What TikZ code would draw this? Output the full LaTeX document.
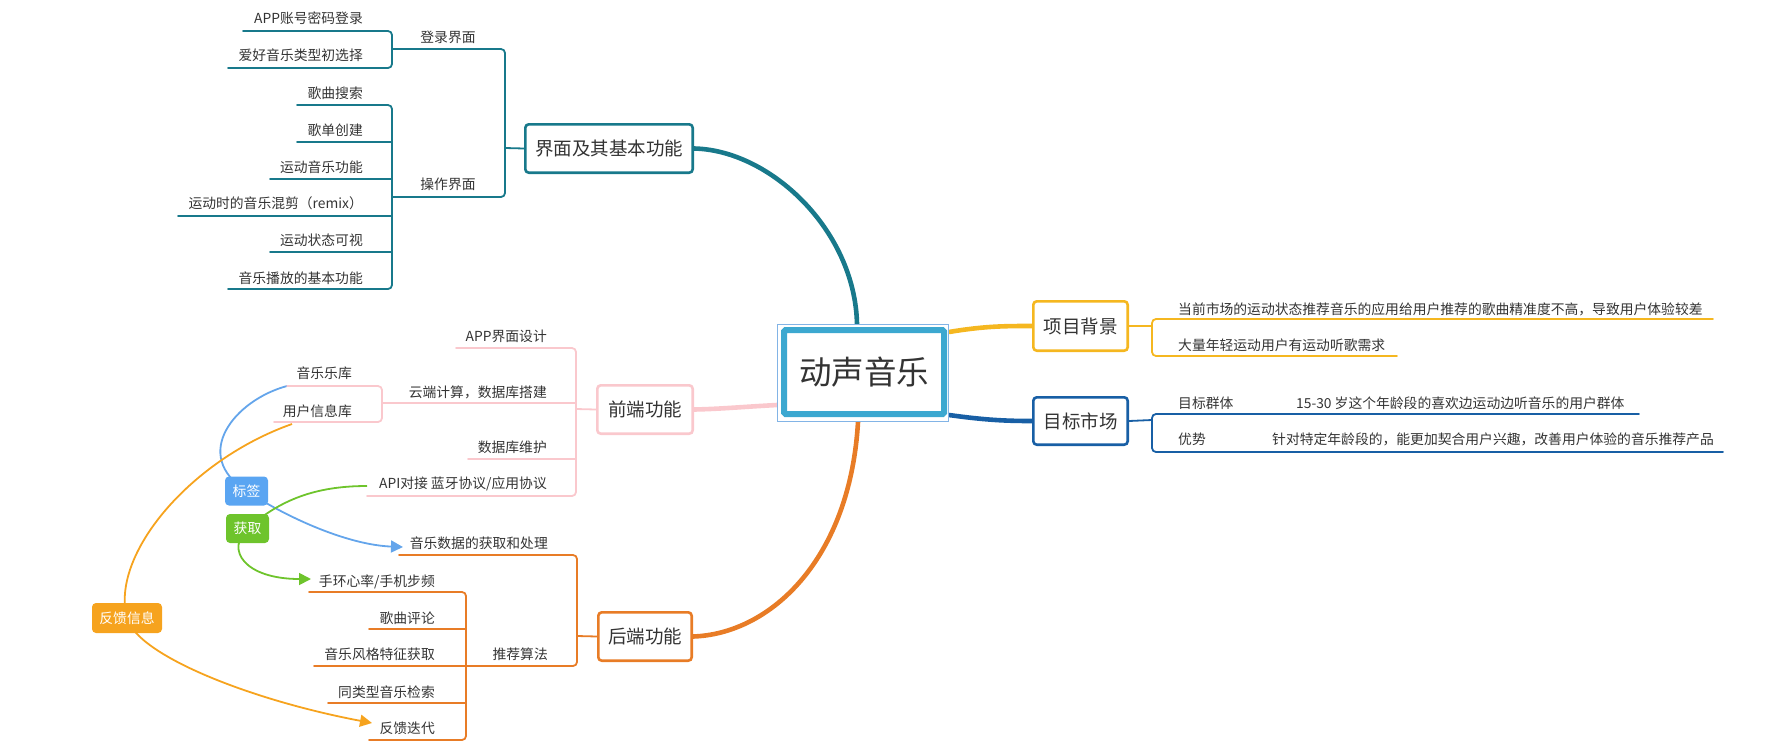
\documentclass[tikz,border=0pt]{standalone}
\usepackage{fontspec}
\setmainfont{Noto Sans CJK SC}
\usetikzlibrary{arrows.meta}
\definecolor{txt}{RGB}{51,51,51}
\definecolor{tealc}{RGB}{24,121,139}
\definecolor{pinkc}{RGB}{250,200,205}
\definecolor{orgc}{RGB}{232,124,38}
\definecolor{yelc}{RGB}{245,183,32}
\definecolor{dblue}{RGB}{24,95,165}
\definecolor{cblue}{RGB}{60,168,208}
\definecolor{cthinc}{RGB}{130,180,230}
\definecolor{tagb}{RGB}{90,165,242}
\definecolor{relb}{RGB}{100,165,235}
\definecolor{greenc}{RGB}{110,196,44}
\definecolor{fbc}{RGB}{246,163,30}
\pgfdeclarelayer{bg}
\pgfsetlayers{bg,main}
\begin{document}
\begin{tikzpicture}[x=1pt,y=-1pt,
  lf/.style={font=\fontsize{13.8}{16}\selectfont, text=txt, inner sep=0pt, text height=11.4pt, text depth=1pt},
  ul/.style={line width=1.8pt, line cap=round, rounded corners=4pt},
  topic/.style={draw, line width=2.6pt, rounded corners=3.5pt, fill=white, font=\fontsize{18.5}{22}\selectfont, text=txt, inner sep=0pt, minimum height=48.4pt},
  trunk/.style={line width=4.6pt},
  rel/.style={line width=1.8pt},
  tagbox/.style={rounded corners=4pt, inner sep=0pt, minimum width=43pt, minimum height=29pt, text=white, font=\fontsize{13.8}{16}\selectfont}
]
\useasboundingbox (0,0) rectangle (1790,750);

% central node
\node[draw=cthinc, line width=0.9pt, minimum width=171pt, minimum height=97pt, inner sep=0pt] (cthin) at (863,373) {};
\node[draw=cblue, line width=6pt, fill=white, minimum width=160pt, minimum height=84pt, inner sep=0pt, font=\fontsize{32.5}{38}\selectfont, text=txt, rounded corners=1.5pt] (c) at (864,372) {动声音乐};

% main topics
\node[topic, draw=tealc, minimum width=167.4pt] (m1) at (609,148.5) {界面及其基本功能};
\node[topic, draw=pinkc, minimum width=95.4pt] (m2) at (645,409.5) {前端功能};
\node[topic, draw=orgc, minimum width=93.4pt] (m3) at (645,636.5) {后端功能};
\node[topic, draw=yelc, minimum width=94.4pt, minimum height=49.4pt] (m4) at (1080.5,326) {项目背景};
\node[topic, draw=dblue, minimum width=94.4pt, minimum height=47.4pt] (m5) at (1080.5,421) {目标市场};

% trunks
\begin{pgfonlayer}{bg}
\draw[trunk, tealc] ([xshift=-6pt]cthin.north) .. controls (855,230) and (770,150) .. (m1.east);
\draw[trunk, orgc] ([xshift=-5pt]cthin.south) .. controls (850,560) and (770,634) .. (m3.east);
\draw[trunk, pinkc] ([yshift=-32pt]cthin.west) .. controls (740,407) and (720,409) .. (m2.east);
\draw[trunk, yelc] ([yshift=41pt]cthin.east) .. controls (985,326) and (1005,326) .. (m4.west);
\draw[trunk, dblue] ([yshift=-42pt]cthin.east) .. controls (985,420) and (1005,421) .. (m5.west);
\end{pgfonlayer}

% ---------- branch: 界面及其基本功能
\coordinate (b1) at (505,148);
\draw[ul, tealc] (m1.west) -- (b1);
\draw[ul, tealc] (392,49) -- (505,49) -- (505,197) -- (392,197);
\node[lf] (s1) at (448,37) {登录界面};
\node[lf] (s2) at (448,184) {操作界面};
\draw[ul, tealc] (243,31) -- (392,31) -- (392,68) -- (228,68);
\draw[ul, tealc] (297,105) -- (392,105) -- (392,289) -- (228,289);
\foreach \xa/\ya in {297/142, 270/179, 178/216, 270/252} \draw[ul, tealc] (\xa,\ya) -- (392,\ya);
\node[lf, anchor=east] (a1) at (363,18) {APP账号密码登录};
\node[lf, anchor=east] (a2) at (363,55) {爱好音乐类型初选择};
\node[lf, anchor=east] (a3) at (363,93) {歌曲搜索};
\node[lf, anchor=east] (a4) at (363,130) {歌单创建};
\node[lf, anchor=east] (a5) at (363,167) {运动音乐功能};
\node[lf, anchor=east] (a6) at (363,203) {运动时的音乐混剪（remix）};
\node[lf, anchor=east] (a7) at (363,240) {运动状态可视};
\node[lf, anchor=east] (a8) at (363,278) {音乐播放的基本功能};

% ---------- branch: 前端功能
\coordinate (b2) at (576,409);
\draw[ul, pinkc] (m2.west) -- (b2);
\draw[ul, pinkc] (456,348) -- (576,348) -- (576,496) -- (367,496);
\draw[ul, pinkc] (382,403) -- (576,403);
\draw[ul, pinkc] (468,459) -- (576,459);
\draw[ul, pinkc] (287,386) -- (382,386) -- (382,422) -- (274,422);
\node[lf, anchor=east] (f1) at (547,336) {APP界面设计};
\node[lf, anchor=east] (f2) at (547,392) {云端计算，数据库搭建};
\node[lf, anchor=east] (f3) at (547,447) {数据库维护};
\node[lf, anchor=east] (f4) at (547,483) {API对接 蓝牙协议/应用协议};
\node[lf, anchor=east] (f5) at (352,373) {音乐乐库};
\node[lf, anchor=east] (f6) at (352,411) {用户信息库};

% ---------- branch: 后端功能
\coordinate (b3) at (577,636);
\draw[ul, orgc] (m3.west) -- (b3);
\draw[ul, orgc] (399,555) -- (577,555) -- (577,666) -- (466,666);
\draw[ul, orgc] (309,592) -- (466,592) -- (466,740) -- (369,740);
\foreach \xa/\ya in {369/629, 314/666, 328/703} \draw[ul, orgc] (\xa,\ya) -- (466,\ya);
\node[lf, anchor=east] (h1) at (548,543) {音乐数据的获取和处理};
\node[lf, anchor=east] (h2) at (548,654) {推荐算法};
\node[lf, anchor=east] (h3) at (435,581) {手环心率/手机步频};
\node[lf, anchor=east] (h4) at (435,618) {歌曲评论};
\node[lf, anchor=east] (h5) at (435,654) {音乐风格特征获取};
\node[lf, anchor=east] (h6) at (435,692) {同类型音乐检索};
\node[lf, anchor=east] (h7) at (435,728) {反馈迭代};

% ---------- branch: 项目背景
\coordinate (b4) at (1152,326);
\draw[ul, yelc] (m4.east) -- (b4);
\draw[ul, yelc] (1713,319) -- (1152,319) -- (1152,356) -- (1397,356);
\node[lf, anchor=west] (p1) at (1178,309) {当前市场的运动状态推荐音乐的应用给用户推荐的歌曲精准度不高，导致用户体验较差};
\node[lf, anchor=west] (p2) at (1178,345) {大量年轻运动用户有运动听歌需求};

% ---------- branch: 目标市场
\coordinate (b5) at (1152,420);
\draw[ul, dblue] (m5.east) -- (b5);
\draw[ul, dblue] (1247,414) -- (1152,414) -- (1152,452) -- (1241,452);
\draw[ul, dblue] (1233,414) -- (1639,414);
\draw[ul, dblue] (1225,452) -- (1723,452);
\node[lf, anchor=west] (q1) at (1178,403) {目标群体};
\node[lf, anchor=west] (q2) at (1296,403) {15-30 岁这个年龄段的喜欢边运动边听音乐的用户群体};
\node[lf, anchor=west] (q3) at (1178,439) {优势};
\node[lf, anchor=west] (q4) at (1272,439) {针对特定年龄段的，能更加契合用户兴趣，改善用户体验的音乐推荐产品};

% ---------- relationship labels
\node[tagbox, fill=tagb] (t1) at (246.5,491) {标签};
\node[tagbox, fill=greenc] (t2) at (247.5,528.5) {获取};
\node[tagbox, fill=fbc, minimum width=70pt, minimum height=30pt] (t3) at (127,618) {反馈信息};

% ---------- relationship curves
\coordinate (r1s) at (287,386);
\coordinate (r1e) at (403,547);
\coordinate (r2s) at (367,486);
\coordinate (r2e) at (311,579);
\coordinate (r3s) at (292,424);
\coordinate (r3e) at (372,723);
\begin{pgfonlayer}{bg}
\draw[rel, relb] (r1s) .. controls (235,400) and (190,455) .. (t1.center);
\draw[rel, relb, -{Triangle[length=12pt,width=12pt]}] (t1.center) .. controls (291,520) and (350,545) .. (r1e);
\draw[rel, greenc] (r2s) .. controls (315,486) and (280,500) .. (t2.center);
\draw[rel, greenc, -{Triangle[length=12pt,width=12pt]}] (t2.center) .. controls (225,550) and (245,579) .. (r2e);
\draw[rel, fbc] (r3s) .. controls (190,460) and (110,555) .. (t3.center);
\draw[rel, fbc, -{Triangle[length=12pt,width=12pt]}] (t3.center) .. controls (137,655) and (250,700) .. (r3e);
\end{pgfonlayer}
\end{tikzpicture}
\end{document}
